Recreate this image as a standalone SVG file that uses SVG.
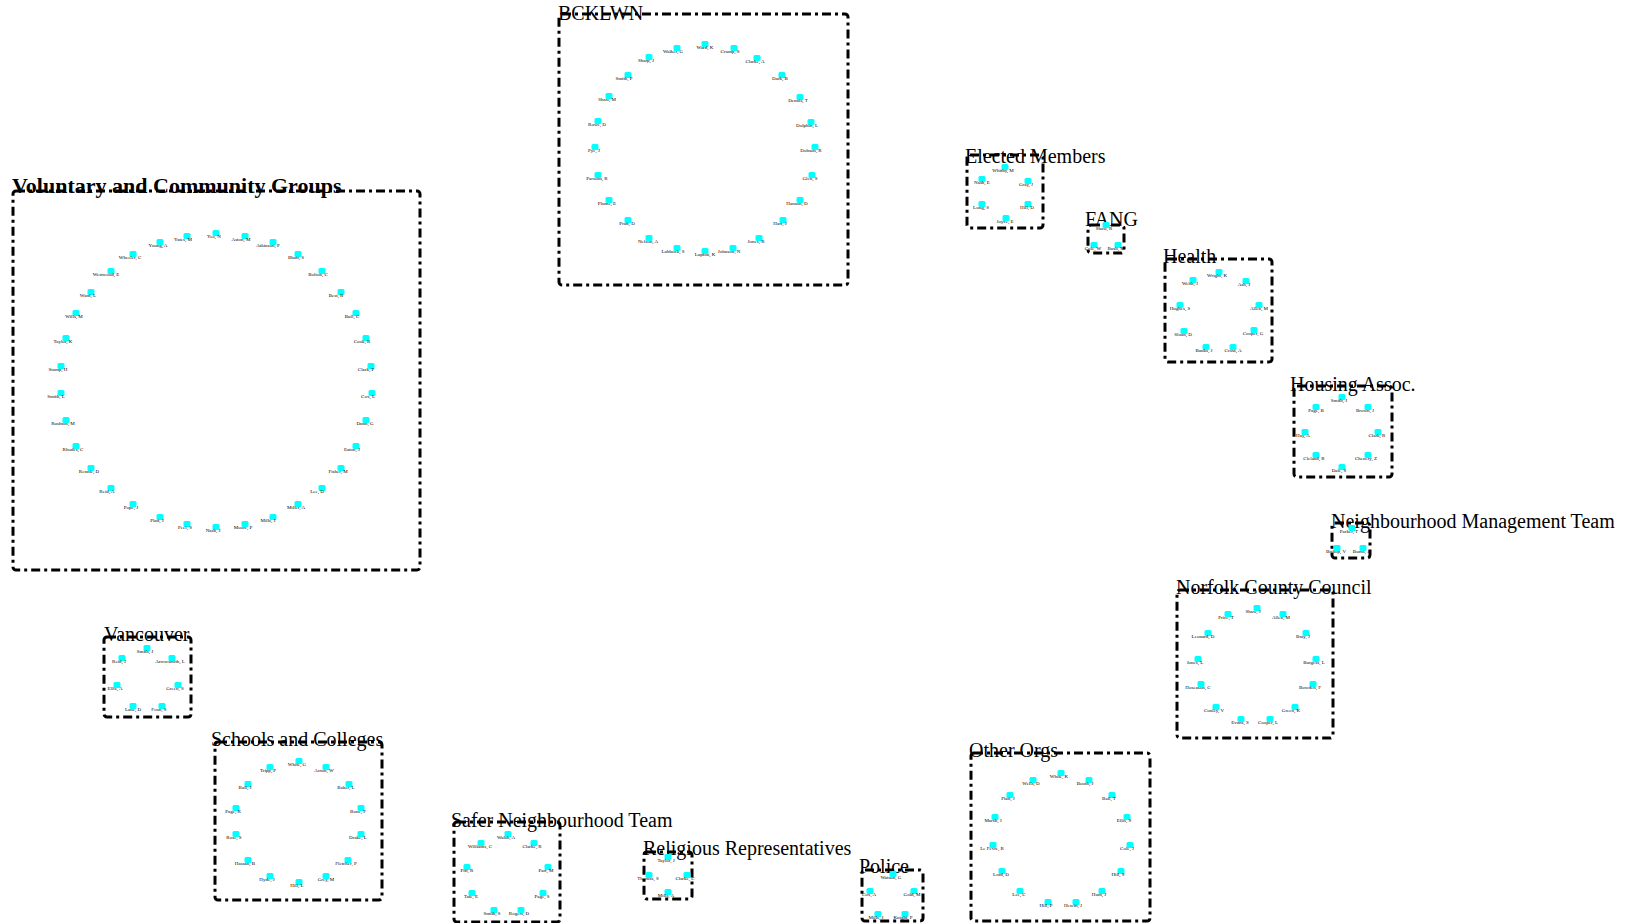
<svg xmlns="http://www.w3.org/2000/svg" width="1637" height="923" viewBox="0 0 1637 923">
<style>
.bg{fill:#fff}
.b{fill:none;stroke:#000;stroke-width:3;stroke-dasharray:9 4 3 4}
.t{font-family:"Liberation Serif",serif;font-size:20px;fill:#000}
.tb{font-family:"Liberation Serif",serif;font-size:22px;font-weight:bold;fill:#000}
.n{fill:#00FFFF}
.l{font-family:"Liberation Serif",serif;font-size:5px;fill:#000;text-anchor:middle}
</style>
<defs>
<rect id="sq" class="n" x="-3.5" y="-3" width="7" height="6" rx="1.5"/>
</defs>
<rect class="bg" width="1637" height="923"/>
<g id="connectors"/>

<g id="cluster-bcklwn">
<rect class="b" x="559" y="14" width="289" height="271" rx="3"/>
<text class="t" x="558" y="20">BCKLWN</text>
<g id="n-ward-k"><use href="#sq" x="705" y="44"/><text class="l" x="705" y="49">Ward, K</text></g>
<g id="n-crump-s"><use href="#sq" x="734" y="48"/><text class="l" x="730" y="53">Crump, S</text></g>
<g id="n-clarke-a"><use href="#sq" x="757" y="58"/><text class="l" x="755" y="63">Clarke, A</text></g>
<g id="n-dark-b"><use href="#sq" x="782" y="75"/><text class="l" x="780" y="80">Dark, B</text></g>
<g id="n-dennis-t"><use href="#sq" x="800" y="97"/><text class="l" x="798" y="102">Dennis, T</text></g>
<g id="n-dolphin-l"><use href="#sq" x="811" y="122"/><text class="l" x="807" y="127">Dolphin, L</text></g>
<g id="n-dobson-r"><use href="#sq" x="815" y="147"/><text class="l" x="811" y="152">Dobson, R</text></g>
<g id="n-glen-s"><use href="#sq" x="812" y="175"/><text class="l" x="810" y="180">Glen, S</text></g>
<g id="n-hanson-d"><use href="#sq" x="800" y="200"/><text class="l" x="797" y="205">Hanson, D</text></g>
<g id="n-hart-j"><use href="#sq" x="783" y="220"/><text class="l" x="780" y="225">Hart, J</text></g>
<g id="n-jones-r"><use href="#sq" x="759" y="238"/><text class="l" x="756" y="243">Jones, R</text></g>
<g id="n-johnson-n"><use href="#sq" x="733" y="248"/><text class="l" x="729" y="253">Johnson, N</text></g>
<g id="n-lupton-k"><use href="#sq" x="705" y="251"/><text class="l" x="705" y="256">Lupton, K</text></g>
<g id="n-lubbock-s"><use href="#sq" x="677" y="248"/><text class="l" x="673" y="253">Lubbock, S</text></g>
<g id="n-nelson-a"><use href="#sq" x="649" y="238"/><text class="l" x="648" y="243">Nelson, A</text></g>
<g id="n-pratt-d"><use href="#sq" x="628" y="220"/><text class="l" x="627" y="225">Pratt, D</text></g>
<g id="n-plume-e"><use href="#sq" x="609" y="200"/><text class="l" x="607" y="205">Plume, E</text></g>
<g id="n-parsons-r"><use href="#sq" x="598" y="175"/><text class="l" x="597" y="180">Parsons, R</text></g>
<g id="n-pye-j"><use href="#sq" x="595" y="147"/><text class="l" x="594" y="152">Pye, J</text></g>
<g id="n-rowe-d"><use href="#sq" x="598" y="121"/><text class="l" x="597" y="126">Rowe, D</text></g>
<g id="n-shaw-m"><use href="#sq" x="609" y="96"/><text class="l" x="607" y="101">Shaw, M</text></g>
<g id="n-smith-p"><use href="#sq" x="628" y="75"/><text class="l" x="624" y="80">Smith, P</text></g>
<g id="n-sharp-j"><use href="#sq" x="649" y="57"/><text class="l" x="646" y="62">Sharp, J</text></g>
<g id="n-walker-g"><use href="#sq" x="677" y="48"/><text class="l" x="673" y="53">Walker, G</text></g>
</g>

<g id="cluster-voluntary">
<rect class="b" x="13" y="191" width="407" height="379" rx="3"/>
<text class="tb" x="12" y="193">Voluntary and Community Groups</text>
<g id="n-yeo-n"><use href="#sq" x="216" y="233"/><text class="l" x="214" y="238">Yeo, N</text></g>
<g id="n-aston-m"><use href="#sq" x="245" y="236"/><text class="l" x="241" y="241">Aston, M</text></g>
<g id="n-atkinson-p"><use href="#sq" x="273" y="242"/><text class="l" x="268" y="247">Atkinson, P</text></g>
<g id="n-bhatt-s"><use href="#sq" x="298" y="254"/><text class="l" x="296" y="259">Bhatt, S</text></g>
<g id="n-bolton-c"><use href="#sq" x="322" y="271"/><text class="l" x="318" y="276">Bolton, C</text></g>
<g id="n-best-r"><use href="#sq" x="341" y="292"/><text class="l" x="336" y="297">Best, R</text></g>
<g id="n-bull-c"><use href="#sq" x="356" y="313"/><text class="l" x="352" y="318">Bull, C</text></g>
<g id="n-cook-r"><use href="#sq" x="366" y="338"/><text class="l" x="362" y="343">Cook, R</text></g>
<g id="n-clark-p"><use href="#sq" x="371" y="366"/><text class="l" x="366" y="371">Clark, P</text></g>
<g id="n-cox-l"><use href="#sq" x="372" y="393"/><text class="l" x="368" y="398">Cox, L</text></g>
<g id="n-dunn-g"><use href="#sq" x="366" y="420"/><text class="l" x="365" y="425">Dunn, G</text></g>
<g id="n-eaton-j"><use href="#sq" x="356" y="446"/><text class="l" x="352" y="451">Eaton, J</text></g>
<g id="n-fisher-m"><use href="#sq" x="341" y="468"/><text class="l" x="338" y="473">Fisher, M</text></g>
<g id="n-lee-d"><use href="#sq" x="322" y="488"/><text class="l" x="317" y="493">Lee, D</text></g>
<g id="n-miller-a"><use href="#sq" x="298" y="504"/><text class="l" x="296" y="509">Miller, A</text></g>
<g id="n-mills-j"><use href="#sq" x="273" y="517"/><text class="l" x="268" y="522">Mills, J</text></g>
<g id="n-moore-p"><use href="#sq" x="245" y="524"/><text class="l" x="243" y="529">Moore, P</text></g>
<g id="n-nash-j"><use href="#sq" x="216" y="527"/><text class="l" x="213" y="532">Nash, J</text></g>
<g id="n-peel-s"><use href="#sq" x="187" y="524"/><text class="l" x="185" y="529">Peel, S</text></g>
<g id="n-platt-j"><use href="#sq" x="160" y="517"/><text class="l" x="157" y="522">Platt, J</text></g>
<g id="n-pope-j"><use href="#sq" x="133" y="504"/><text class="l" x="131" y="509">Pope, J</text></g>
<g id="n-reid-a"><use href="#sq" x="111" y="488"/><text class="l" x="107" y="493">Reid, A</text></g>
<g id="n-rennie-d"><use href="#sq" x="91" y="468"/><text class="l" x="89" y="473">Rennie, D</text></g>
<g id="n-rhodes-c"><use href="#sq" x="76" y="446"/><text class="l" x="73" y="451">Rhodes, C</text></g>
<g id="n-rushton-m"><use href="#sq" x="66" y="420"/><text class="l" x="63" y="425">Rushton, M</text></g>
<g id="n-smith-l"><use href="#sq" x="61" y="393"/><text class="l" x="56" y="398">Smith, L</text></g>
<g id="n-stamp-h"><use href="#sq" x="61" y="366"/><text class="l" x="58" y="371">Stamp, H</text></g>
<g id="n-taylor-k"><use href="#sq" x="66" y="338"/><text class="l" x="63" y="343">Taylor, K</text></g>
<g id="n-wills-m"><use href="#sq" x="76" y="313"/><text class="l" x="74" y="318">Wills, M</text></g>
<g id="n-ward-l"><use href="#sq" x="91" y="292"/><text class="l" x="88" y="297">Ward, L</text></g>
<g id="n-westwood-e"><use href="#sq" x="111" y="271"/><text class="l" x="106" y="276">Westwood, E</text></g>
<g id="n-wheeler-c"><use href="#sq" x="133" y="254"/><text class="l" x="130" y="259">Wheeler, C</text></g>
<g id="n-young-a"><use href="#sq" x="160" y="242"/><text class="l" x="158" y="247">Young, A</text></g>
<g id="n-yates-m"><use href="#sq" x="187" y="236"/><text class="l" x="183" y="241">Yates, M</text></g>
</g>

<g id="cluster-elected">
<rect class="b" x="967" y="155" width="76" height="73" rx="3"/>
<text class="t" x="965" y="163">Elected Members</text>
<g id="n-whitby-m"><use href="#sq" x="1005" y="167"/><text class="l" x="1003" y="172">Whitby, M</text></g>
<g id="n-gray-j"><use href="#sq" x="1028" y="181"/><text class="l" x="1026" y="186">Gray, J</text></g>
<g id="n-hill-d"><use href="#sq" x="1028" y="204"/><text class="l" x="1027" y="209">Hill, D</text></g>
<g id="n-joyce-e"><use href="#sq" x="1006" y="218"/><text class="l" x="1005" y="223">Joyce, E</text></g>
<g id="n-long-s"><use href="#sq" x="982" y="204"/><text class="l" x="981" y="209">Long, S</text></g>
<g id="n-nash-e"><use href="#sq" x="982" y="179"/><text class="l" x="982" y="184">Nash, E</text></g>
</g>

<g id="cluster-fang">
<rect class="b" x="1088" y="225" width="36" height="28" rx="3"/>
<text class="t" x="1085" y="226">FANG</text>
<g id="n-shaw-r"><use href="#sq" x="1106" y="225"/><text class="l" x="1104" y="230">Shaw, R</text></g>
<g id="n-cole-w"><use href="#sq" x="1094" y="245"/><text class="l" x="1093" y="250">Cole, W</text></g>
<g id="n-bush-m"><use href="#sq" x="1118" y="245"/><text class="l" x="1116" y="250">Bush, M</text></g>
</g>

<g id="cluster-health">
<rect class="b" x="1165" y="259" width="107" height="103" rx="3"/>
<text class="t" x="1163" y="263">Health</text>
<g id="n-wright-k"><use href="#sq" x="1219" y="272"/><text class="l" x="1217" y="277">Wright, K</text></g>
<g id="n-ash-j"><use href="#sq" x="1246" y="281"/><text class="l" x="1244" y="286">Ash, J</text></g>
<g id="n-allen-m"><use href="#sq" x="1259" y="305"/><text class="l" x="1259" y="310">Allen, M</text></g>
<g id="n-cooper-g"><use href="#sq" x="1254" y="330"/><text class="l" x="1253" y="335">Cooper, G</text></g>
<g id="n-cross-a"><use href="#sq" x="1233" y="347"/><text class="l" x="1233" y="352">Cross, A</text></g>
<g id="n-banks-j"><use href="#sq" x="1206" y="347"/><text class="l" x="1204" y="352">Banks, J</text></g>
<g id="n-sloan-d"><use href="#sq" x="1184" y="331"/><text class="l" x="1183" y="336">Sloan, D</text></g>
<g id="n-hughes-s"><use href="#sq" x="1180" y="305"/><text class="l" x="1180" y="310">Hughes, S</text></g>
<g id="n-webb-j"><use href="#sq" x="1193" y="280"/><text class="l" x="1190" y="285">Webb, J</text></g>
</g>

<g id="cluster-housing">
<rect class="b" x="1294" y="386" width="98" height="91" rx="3"/>
<text class="t" x="1290" y="391">Housing Assoc.</text>
<g id="n-smith-j-h"><use href="#sq" x="1342" y="397"/><text class="l" x="1339" y="402">Smith, J</text></g>
<g id="n-brown-j"><use href="#sq" x="1368" y="407"/><text class="l" x="1365" y="412">Brown, J</text></g>
<g id="n-clark-r"><use href="#sq" x="1378" y="432"/><text class="l" x="1377" y="437">Clark, R</text></g>
<g id="n-chenery-z"><use href="#sq" x="1368" y="455"/><text class="l" x="1366" y="460">Chenery, Z</text></g>
<g id="n-dale-s"><use href="#sq" x="1342" y="467"/><text class="l" x="1339" y="472">Dale, S</text></g>
<g id="n-cleland-r"><use href="#sq" x="1316" y="455"/><text class="l" x="1314" y="460">Cleland, R</text></g>
<g id="n-hay-a"><use href="#sq" x="1305" y="432"/><text class="l" x="1303" y="437">Hay, A</text></g>
<g id="n-page-b"><use href="#sq" x="1316" y="407"/><text class="l" x="1316" y="412">Page, B</text></g>
</g>

<g id="cluster-nmt">
<rect class="b" x="1332" y="523" width="38" height="35" rx="3"/>
<text class="t" x="1331" y="528">Neighbourhood Management Team</text>
<g id="n-parker-t"><use href="#sq" x="1352" y="528"/><text class="l" x="1349" y="533">Parker, T</text></g>
<g id="n-bishop-v"><use href="#sq" x="1337" y="548"/><text class="l" x="1336" y="553">Bishop, V</text></g>
<g id="n-burns-j"><use href="#sq" x="1363" y="548"/><text class="l" x="1361" y="553">Burns, J</text></g>
</g>

<g id="cluster-norfolk">
<rect class="b" x="1177" y="590" width="156" height="148" rx="3"/>
<text class="t" x="1176" y="594">Norfolk County Council</text>
<g id="n-shaw-j"><use href="#sq" x="1257" y="608"/><text class="l" x="1253" y="613">Shaw, J</text></g>
<g id="n-allen-m2"><use href="#sq" x="1283" y="614"/><text class="l" x="1281" y="619">Allen, M</text></g>
<g id="n-bray-j"><use href="#sq" x="1306" y="633"/><text class="l" x="1303" y="638">Bray, J</text></g>
<g id="n-burgess-l"><use href="#sq" x="1316" y="659"/><text class="l" x="1314" y="664">Burgess, L</text></g>
<g id="n-bowden-f"><use href="#sq" x="1313" y="684"/><text class="l" x="1310" y="689">Bowden, F</text></g>
<g id="n-green-k"><use href="#sq" x="1295" y="707"/><text class="l" x="1291" y="712">Green, K</text></g>
<g id="n-cooper-l"><use href="#sq" x="1270" y="719"/><text class="l" x="1268" y="724">Cooper, L</text></g>
<g id="n-evans-s"><use href="#sq" x="1241" y="719"/><text class="l" x="1240" y="724">Evans, S</text></g>
<g id="n-conley-v"><use href="#sq" x="1216" y="707"/><text class="l" x="1214" y="712">Conley, V</text></g>
<g id="n-hoseason-c"><use href="#sq" x="1201" y="684"/><text class="l" x="1198" y="689">Hoseason, C</text></g>
<g id="n-jones-l"><use href="#sq" x="1198" y="659"/><text class="l" x="1195" y="664">Jones, L</text></g>
<g id="n-leonard-d"><use href="#sq" x="1208" y="633"/><text class="l" x="1203" y="638">Leonard, D</text></g>
<g id="n-price-t"><use href="#sq" x="1228" y="614"/><text class="l" x="1226" y="619">Price, T</text></g>
</g>

<g id="cluster-vancouver">
<rect class="b" x="104" y="637" width="87" height="80" rx="3"/>
<text class="t" x="104" y="641">Vancouver</text>
<g id="n-smith-j-v"><use href="#sq" x="147" y="648"/><text class="l" x="145" y="653">Smith, J</text></g>
<g id="n-arrowsmith-l"><use href="#sq" x="172" y="658"/><text class="l" x="170" y="663">Arrowsmith, L</text></g>
<g id="n-green-s"><use href="#sq" x="178" y="685"/><text class="l" x="175" y="690">Green, S</text></g>
<g id="n-fenn-s"><use href="#sq" x="162" y="706"/><text class="l" x="159" y="711">Fenn, S</text></g>
<g id="n-lane-d"><use href="#sq" x="133" y="706"/><text class="l" x="133" y="711">Lane, D</text></g>
<g id="n-ellis-a"><use href="#sq" x="117" y="685"/><text class="l" x="115" y="690">Ellis, A</text></g>
<g id="n-reid-j"><use href="#sq" x="122" y="658"/><text class="l" x="119" y="663">Reid, J</text></g>
</g>

<g id="cluster-schools">
<rect class="b" x="215" y="742" width="167" height="158" rx="3"/>
<text class="t" x="211" y="746">Schools and Colleges</text>
<g id="n-white-g"><use href="#sq" x="299" y="761"/><text class="l" x="297" y="766">White, G</text></g>
<g id="n-acton-w"><use href="#sq" x="326" y="767"/><text class="l" x="324" y="772">Acton, W</text></g>
<g id="n-baker-l"><use href="#sq" x="349" y="784"/><text class="l" x="346" y="789">Baker, L</text></g>
<g id="n-bone-f"><use href="#sq" x="361" y="808"/><text class="l" x="358" y="813">Bone, F</text></g>
<g id="n-drake-l"><use href="#sq" x="361" y="834"/><text class="l" x="358" y="839">Drake, L</text></g>
<g id="n-fletcher-p"><use href="#sq" x="348" y="860"/><text class="l" x="346" y="865">Fletcher, P</text></g>
<g id="n-grey-m"><use href="#sq" x="326" y="876"/><text class="l" x="326" y="881">Grey, M</text></g>
<g id="n-hill-l"><use href="#sq" x="299" y="882"/><text class="l" x="297" y="887">Hill, L</text></g>
<g id="n-hyde-j"><use href="#sq" x="270" y="876"/><text class="l" x="267" y="881">Hyde, J</text></g>
<g id="n-hassan-b"><use href="#sq" x="248" y="860"/><text class="l" x="245" y="865">Hassan, B</text></g>
<g id="n-rose-s"><use href="#sq" x="236" y="834"/><text class="l" x="234" y="839">Rose, S</text></g>
<g id="n-page-r"><use href="#sq" x="236" y="808"/><text class="l" x="233" y="813">Page, R</text></g>
<g id="n-ball-j"><use href="#sq" x="248" y="784"/><text class="l" x="245" y="789">Ball, J</text></g>
<g id="n-tripp-p"><use href="#sq" x="270" y="767"/><text class="l" x="268" y="772">Tripp, P</text></g>
</g>

<g id="cluster-safer">
<rect class="b" x="454" y="822" width="106" height="100" rx="3"/>
<text class="t" x="451" y="827">Safer Neighbourhood Team</text>
<g id="n-walsh-a"><use href="#sq" x="508" y="834"/><text class="l" x="506" y="839">Walsh, A</text></g>
<g id="n-clarke-r"><use href="#sq" x="534" y="843"/><text class="l" x="532" y="848">Clarke, R</text></g>
<g id="n-parr-m"><use href="#sq" x="548" y="867"/><text class="l" x="546" y="872">Parr, M</text></g>
<g id="n-page-s"><use href="#sq" x="543" y="893"/><text class="l" x="542" y="898">Page, S</text></g>
<g id="n-rogers-d"><use href="#sq" x="521" y="910"/><text class="l" x="519" y="915">Rogers, D</text></g>
<g id="n-smith-s"><use href="#sq" x="494" y="910"/><text class="l" x="492" y="915">Smith, S</text></g>
<g id="n-tate-e"><use href="#sq" x="472" y="893"/><text class="l" x="471" y="898">Tate, E</text></g>
<g id="n-pitt-r"><use href="#sq" x="467" y="867"/><text class="l" x="467" y="872">Pitt, R</text></g>
<g id="n-williams-c"><use href="#sq" x="481" y="843"/><text class="l" x="480" y="848">Williams, C</text></g>
</g>

<g id="cluster-religious">
<rect class="b" x="644" y="852" width="48" height="47" rx="3"/>
<text class="t" x="643" y="855">Religious Representatives</text>
<g id="n-taylor-j"><use href="#sq" x="668" y="857"/><text class="l" x="666" y="862">Taylor, J</text></g>
<g id="n-clarke-c"><use href="#sq" x="687" y="875"/><text class="l" x="685" y="880">Clarke, C</text></g>
<g id="n-mills-a"><use href="#sq" x="668" y="892"/><text class="l" x="666" y="897">Mills, A</text></g>
<g id="n-thomas-s"><use href="#sq" x="649" y="875"/><text class="l" x="648" y="880">Thomas, S</text></g>
</g>

<g id="cluster-police">
<rect class="b" x="862" y="870" width="61" height="51" rx="3"/>
<text class="t" x="859" y="873">Police</text>
<g id="n-watson-g"><use href="#sq" x="893" y="874"/><text class="l" x="891" y="879">Watson, G</text></g>
<g id="n-gold-m"><use href="#sq" x="914" y="891"/><text class="l" x="912" y="896">Gold, M</text></g>
<g id="n-knight-p"><use href="#sq" x="905" y="914"/><text class="l" x="903" y="919">Knight, P</text></g>
<g id="n-mills-j2"><use href="#sq" x="878" y="914"/><text class="l" x="876" y="919">Mills, J</text></g>
<g id="n-cox-a"><use href="#sq" x="870" y="891"/><text class="l" x="869" y="896">Cox, A</text></g>
</g>

<g id="cluster-other">
<rect class="b" x="971" y="753" width="179" height="168" rx="3"/>
<text class="t" x="969" y="757">Other Orgs</text>
<g id="n-white-k"><use href="#sq" x="1061" y="773"/><text class="l" x="1059" y="778">White, K</text></g>
<g id="n-booth-j"><use href="#sq" x="1089" y="780"/><text class="l" x="1085" y="785">Booth, J</text></g>
<g id="n-ball-t"><use href="#sq" x="1112" y="795"/><text class="l" x="1109" y="800">Ball, T</text></g>
<g id="n-ellis-s"><use href="#sq" x="1127" y="817"/><text class="l" x="1124" y="822">Ellis, S</text></g>
<g id="n-cole-j"><use href="#sq" x="1130" y="845"/><text class="l" x="1127" y="850">Cole, J</text></g>
<g id="n-hill-s"><use href="#sq" x="1121" y="871"/><text class="l" x="1118" y="876">Hill, S</text></g>
<g id="n-hunt-j"><use href="#sq" x="1102" y="891"/><text class="l" x="1099" y="896">Hunt, J</text></g>
<g id="n-hewitt-j"><use href="#sq" x="1076" y="902"/><text class="l" x="1073" y="907">Hewitt, J</text></g>
<g id="n-hill-p"><use href="#sq" x="1048" y="902"/><text class="l" x="1046" y="907">Hill, P</text></g>
<g id="n-lee-c"><use href="#sq" x="1020" y="891"/><text class="l" x="1019" y="896">Lee, C</text></g>
<g id="n-lord-d"><use href="#sq" x="1002" y="871"/><text class="l" x="1001" y="876">Lord, D</text></g>
<g id="n-lefevre-r"><use href="#sq" x="993" y="845"/><text class="l" x="992" y="850">Le Fevre, R</text></g>
<g id="n-marsh-j"><use href="#sq" x="995" y="817"/><text class="l" x="993" y="822">Marsh, J</text></g>
<g id="n-platt-j2"><use href="#sq" x="1010" y="795"/><text class="l" x="1008" y="800">Platt, J</text></g>
<g id="n-wells-d"><use href="#sq" x="1033" y="780"/><text class="l" x="1031" y="785">Wells, D</text></g>
</g>
</svg>
